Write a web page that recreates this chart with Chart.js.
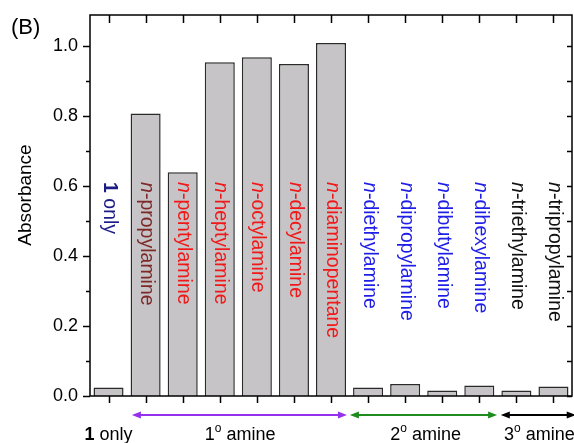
<!DOCTYPE html>
<html>
<head>
<meta charset="utf-8">
<script src="https://cdn.jsdelivr.net/npm/chart.js@4.4.0/dist/chart.umd.min.js"></script>
<style>
  body { margin: 0; background: #fff; }
</style>
</head>
<body>
<canvas id="chart" width="574" height="443"></canvas>
<script>
// data
var amines = ['1 only', 'n-propylamine', 'n-pentylamine', 'n-heptylamine', 'n-octylamine',
  'n-decylamine', 'n-diaminopentane', 'n-diethylamine', 'n-dipropylamine', 'n-dibutylamine',
  'n-dihexylamine', 'n-triethylamine', 'n-tripropylamine'];
var absorbance = [0.024, 0.808, 0.640, 0.955, 0.969, 0.950, 1.010, 0.024, 0.034, 0.016, 0.030, 0.016, 0.027];
var yTicks = [0.0, 0.2, 0.4, 0.6, 0.8, 1.0];
var yTitle = 'Absorbance';

// groups along the bottom (spans in category units)
var groupNames = ['1 only', '1° amine', '2° amine', '3° amine'];
var groupCenter = [0, 3.55, 8.55, 11.62];
var arrowFrom = [null, 0.63, 6.51, 10.58];
var arrowTo = [null, 6.43, 10.48, 12.6];

var labelColors = ['#1c1c86', '#7e2828', '#f01818', '#f01818', '#f01818', '#f01818', '#f01818',
  '#1e1ee6', '#1e1ee6', '#1e1ee6', '#1e1ee6', '#111', '#111'];
var arrowColors = [null, '#9430ee', '#1e8c1e', '#000'];

var FONT = '"Liberation Sans", Arial, sans-serif';

// draws a label made of a styled first part and a plain rest
function drawParts(ctx, parts, x, y, size) {
  for (var i = 0; i < parts.length; i++) {
    var p = parts[i];
    ctx.font = (p.style || '') + ' ' + (p.size || size) + 'px ' + FONT;
    ctx.fillText(p.text, x, y + (p.dy || 0));
    x += ctx.measureText(p.text).width;
  }
  return x;
}

function splitLabel(s) {
  if (s.indexOf('n-') === 0) return [{ text: 'n', style: 'italic' }, { text: s.slice(1) }];
  if (s.indexOf('1 ') === 0) return [{ text: '1', style: 'bold' }, { text: s.slice(1) }];
  return [{ text: s }];
}

function splitGroup(s) {
  var k = s.indexOf('°');
  if (k < 0) return splitLabel(s);
  return [{ text: s.slice(0, k) }, { text: 'o', size: 12, dy: -8 }, { text: s.slice(k + 1) }];
}

var decor = {
  id: 'decor',
  afterDatasetsDraw: function(chart) {
    var ctx = chart.ctx, xs = chart.scales.x, ys = chart.scales.y;
    var top = ys.getPixelForValue(0.612);
    ctx.save();
    ctx.textAlign = 'left';
    ctx.textBaseline = 'middle';
    for (var i = 0; i < amines.length; i++) {
      ctx.save();
      ctx.translate(xs.getPixelForValue(i) + 1, top);
      ctx.rotate(Math.PI / 2);
      ctx.fillStyle = labelColors[i];
      drawParts(ctx, splitLabel(amines[i]), 0, 0, 19.5);
      ctx.restore();
    }
    ctx.restore();
  },
  afterDraw: function(chart) {
    var ctx = chart.ctx, a = chart.chartArea, xs = chart.scales.x, ys = chart.scales.y;
    ctx.save();
    ctx.strokeStyle = '#000';
    ctx.lineWidth = 1.5;
    ctx.strokeRect(a.left, a.top, a.right - a.left, a.bottom - a.top);
    ctx.beginPath();
    for (var i = 0; i < amines.length; i++) {
      var x = Math.round(xs.getPixelForValue(i)) + 0.5;
      ctx.moveTo(x, a.bottom); ctx.lineTo(x, a.bottom + 7);
      ctx.moveTo(x, a.top); ctx.lineTo(x, a.top + 8);
    }
    for (var v = 0; v <= 10; v++) {
      var y = Math.round(ys.getPixelForValue(v / 10)) + 0.5;
      var len = v % 2 ? 4 : 7;
      ctx.moveTo(a.left - len, y); ctx.lineTo(a.left, y);
      ctx.moveTo(a.right, y); ctx.lineTo(a.right - 5, y);
    }
    ctx.stroke();

    // y axis title
    ctx.save();
    ctx.translate(26, ys.getPixelForValue(0.575));
    ctx.rotate(-Math.PI / 2);
    ctx.font = '19px ' + FONT;
    ctx.fillStyle = '#000';
    ctx.textAlign = 'center';
    ctx.textBaseline = 'middle';
    ctx.fillText(yTitle, 0, 0);
    ctx.restore();

    // group arrows and names
    var ay = 415;
    for (var g = 0; g < groupNames.length; g++) {
      if (arrowFrom[g] !== null) {
        var x1 = xs.getPixelForValue(arrowFrom[g]), x2 = xs.getPixelForValue(arrowTo[g]);
        ctx.strokeStyle = arrowColors[g];
        ctx.fillStyle = arrowColors[g];
        ctx.lineWidth = 2;
        ctx.beginPath();
        ctx.moveTo(x1 + 6, ay); ctx.lineTo(x2 - 6, ay);
        ctx.stroke();
        ctx.beginPath();
        ctx.moveTo(x1, ay); ctx.lineTo(x1 + 9, ay - 3.5); ctx.lineTo(x1 + 9, ay + 3.5); ctx.closePath();
        ctx.moveTo(x2, ay); ctx.lineTo(x2 - 9, ay - 3.5); ctx.lineTo(x2 - 9, ay + 3.5); ctx.closePath();
        ctx.fill();
      }
      var parts = splitGroup(groupNames[g]);
      ctx.fillStyle = '#000';
      ctx.textAlign = 'left';
      ctx.textBaseline = 'alphabetic';
      var w = drawParts(ctx, parts, -1000, -1000, 18) + 1000;
      drawParts(ctx, parts, xs.getPixelForValue(groupCenter[g]) - w / 2, 440, 18);
    }

    ctx.font = '22px ' + FONT;
    ctx.fillStyle = '#000';
    ctx.textBaseline = 'alphabetic';
    ctx.fillText('(B)', 11, 34);
    ctx.restore();
  }
};

var ctx = document.getElementById('chart').getContext('2d');
var myChart = new Chart(ctx, {
  type: 'bar',
  data: {
    labels: amines,
    datasets: [{
      label: yTitle,
      data: absorbance,
      backgroundColor: '#c6c4c6',
      borderColor: '#2a2a2a',
      borderWidth: 1.5,
      barPercentage: 0.81,
      categoryPercentage: 1
    }]
  },
  options: {
    responsive: false,
    animation: false,
    devicePixelRatio: 1,
    layout: { padding: { top: 15, right: 2, left: 0, bottom: 0 } },
    plugins: { legend: { display: false }, tooltip: { enabled: false } },
    scales: {
      x: {
        ticks: { display: false },
        grid: { display: false, drawTicks: false },
        border: { display: false },
        afterFit: function(s) { s.height = 47; s.paddingLeft = 0; s.paddingRight = 0; }
      },
      y: {
        min: 0,
        max: 1.09,
        afterBuildTicks: function(s) { s.ticks = yTicks.map(function(v) { return { value: v }; }); },
        ticks: {
          color: '#000',
          padding: 12,
          font: { family: FONT, size: 18 },
          callback: function(v) { return Number(v).toFixed(1); }
        },
        grid: { display: false, drawTicks: false },
        border: { display: false },
        afterFit: function(s) { s.width = 90; s.paddingTop = 0; s.paddingBottom = 0; }
      }
    }
  },
  plugins: [decor]
});
</script>
</body>
</html>
